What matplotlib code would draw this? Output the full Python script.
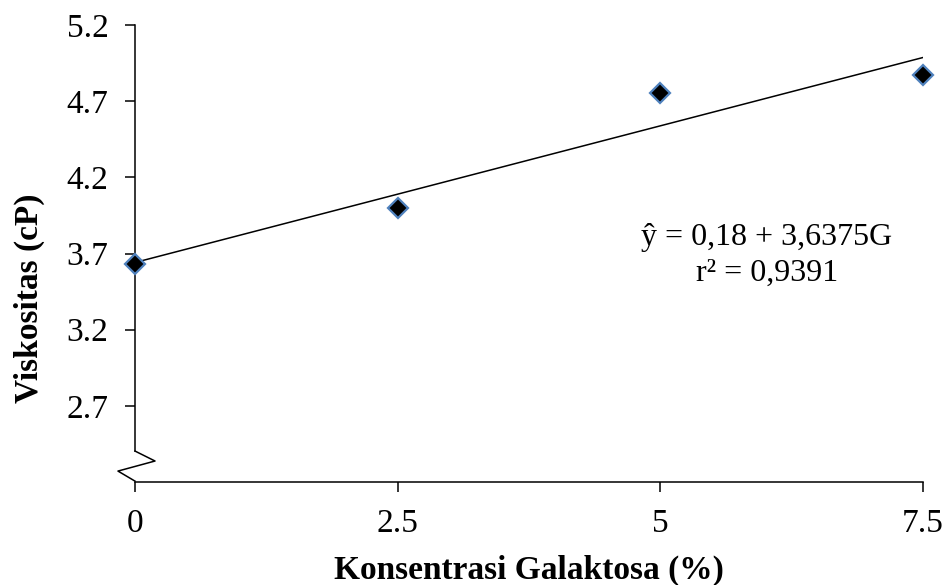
import numpy as np
import matplotlib.pyplot as plt

# data
konsentrasi = [0, 2.5, 5, 7.5]
viskositas = [3.628, 4.001, 4.754, 4.872]
y_ticks = [2.7, 3.2, 3.7, 4.2, 4.7, 5.2]
x_ticks = [0, 2.5, 5, 7.5]
x_tick_labels = ["0", "2.5", "5", "7.5"]

plt.rcParams["font.family"] = ["Liberation Serif", "DejaVu Serif"]

fig = plt.figure(figsize=(9.48, 5.85), dpi=100)
ax = fig.add_axes([0.1424, 0.176, 0.8312, 0.7813])

# trend line (linear fit)
slope, intercept = np.polyfit(konsentrasi, viskositas, 1)
xs = np.array([konsentrasi[0], konsentrasi[-1]])
ax.plot(xs, intercept + slope * xs, color="black", lw=1.1, zorder=2)

ax.plot(konsentrasi, viskositas, linestyle="none", marker="D", ms=10.5,
        markerfacecolor="black", markeredgecolor="#4F81BD", markeredgewidth=1.6,
        clip_on=False, zorder=3)

ax.set_xlim(0, 7.5)
ax.set_ylim(2.2, 5.2)
ax.set_xticks(x_ticks)
ax.set_xticklabels(x_tick_labels)
ax.set_yticks(y_ticks)
ax.set_yticklabels([f"{v:.1f}" for v in y_ticks])

ax.spines["top"].set_visible(False)
ax.spines["right"].set_visible(False)
for s in ("left", "bottom"):
    ax.spines[s].set_linewidth(1.1)
ax.spines["left"].set_bounds(2.2 + 0.0678 * 3.0, 5.2)
ax.tick_params(direction="out", length=7, width=1.1, pad=12, labelsize=24)

# axis break zigzag
ax.plot([0, 0.0254, -0.0216, 0], [0.0678, 0.046, 0.024, 0.002],
        transform=ax.transAxes, color="black", lw=1.1, clip_on=False)

ax.set_xlabel("Konsentrasi Galaktosa (%)", fontsize=24, fontweight="bold")
ax.set_ylabel("Viskositas (cP)", fontsize=24, fontweight="bold")
ax.xaxis.set_label_coords(0.5, -0.16)
ax.yaxis.set_label_coords(-0.114, 0.403)

ax.text(0.802, 0.535, "ŷ = 0,18 + 3,6375G", transform=ax.transAxes,
        ha="center", va="center", fontsize=23)
ax.text(0.802, 0.456, "r² = 0,9391", transform=ax.transAxes,
        ha="center", va="center", fontsize=23)

fig.savefig("out.png", dpi=100)
